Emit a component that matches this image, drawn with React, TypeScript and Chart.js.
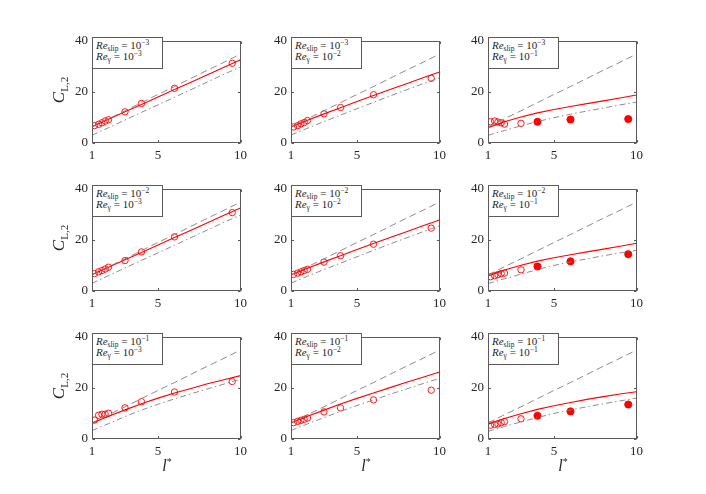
import React, { useEffect, useRef } from 'react';
import { Chart, registerables } from 'chart.js';

Chart.register(...registerables);

// abscissa samples for the model curves and for the simulation markers
const lineX = [1, 2, 3, 4, 5, 6, 7, 8, 9, 10];
const markerX = [1.15, 1.4, 1.6, 1.8, 2, 3, 4, 6, 9.5];
const xTicks = [1, 5, 10];
const yTicks = [0, 20, 40];

// Re_slip per row, Re_gamma per column (exponents of 10)
const slipExponents = ['−3', '−2', '−1'];
const gammaExponents = ['−3', '−2', '−1'];

// grey dashed curve (same in every panel)
const dashedY = [6.3, 9.5, 12.6, 15.8, 19.0, 22.1, 25.3, 28.5, 31.6, 34.8];

// red solid curves
const solidR1C1 = [6.4, 9.3, 12.2, 15.1, 18.0, 20.9, 23.8, 26.7, 29.6, 32.6];
const solidR1C2 = [6.3, 8.9, 11.4, 13.8, 16.2, 18.6, 20.9, 23.2, 25.5, 27.8];
const solidR1C3 = [6.0, 8.3, 10.2, 11.8, 13.1, 14.3, 15.4, 16.5, 17.6, 18.8];
const solidR2C1 = [6.4, 9.3, 12.2, 15.1, 18.0, 20.9, 23.8, 26.7, 29.6, 32.5];
const solidR2C2 = [6.3, 8.9, 11.4, 13.8, 16.2, 18.6, 20.9, 23.2, 25.5, 27.8];
const solidR2C3 = [5.9, 8.2, 10.1, 11.7, 13.0, 14.2, 15.3, 16.4, 17.5, 18.7];
const solidR3C1 = [6.2, 8.9, 11.4, 13.8, 16.0, 18.0, 19.8, 21.6, 23.2, 24.8];
const solidR3C2 = [6.3, 8.9, 11.3, 13.7, 15.9, 18.0, 20.1, 22.2, 24.2, 26.2];
const solidR3C3 = [5.8, 8.0, 9.9, 11.6, 13.0, 14.3, 15.5, 16.6, 17.6, 18.5];

// grey dash-dot curves
const dashDotR1C1 = [3.0, 6.0, 9.0, 12.0, 14.9, 17.9, 20.9, 23.9, 26.9, 29.8];
const dashDotR1C2 = [3.1, 5.8, 8.4, 10.9, 13.4, 15.9, 18.4, 20.8, 23.2, 25.5];
const dashDotR1C3 = [3.0, 4.9, 6.7, 8.4, 9.9, 11.3, 12.5, 13.7, 14.9, 16.0];
const dashDotR2C1 = [3.0, 6.0, 9.0, 12.0, 14.9, 17.9, 20.9, 23.9, 26.9, 29.7];
const dashDotR2C2 = [3.1, 5.8, 8.4, 10.9, 13.4, 15.9, 18.4, 20.8, 23.2, 25.5];
const dashDotR2C3 = [2.9, 4.8, 6.6, 8.4, 10.0, 11.4, 12.6, 13.8, 14.9, 15.9];
const dashDotR3C1 = [3.3, 6.0, 8.8, 11.3, 13.6, 15.7, 17.7, 19.6, 21.5, 23.4];
const dashDotR3C2 = [3.3, 5.9, 8.4, 10.8, 13.1, 15.3, 17.5, 19.6, 21.7, 23.7];
const dashDotR3C3 = [3.0, 4.9, 6.7, 8.4, 10.0, 11.4, 12.6, 13.8, 14.9, 16.0];

// red markers
const markersR1C1 = [6.8, 7.3, 7.9, 8.6, 9.1, 12.2, 15.5, 21.4, 31.2];
const markersR1C2 = [6.3, 6.8, 7.5, 8.0, 8.8, 11.4, 13.9, 18.9, 25.3];
const markersR1C3 = [8.3, 8.6, 8.2, 7.9, 7.4, 7.7, 8.3, 9.2, 9.4];
const markersR2C1 = [6.8, 7.5, 8.0, 8.6, 9.3, 11.9, 15.3, 21.2, 30.7];
const markersR2C2 = [6.5, 7.0, 7.5, 8.0, 8.5, 11.3, 13.8, 18.3, 24.6];
const markersR2C3 = [5.6, 6.0, 6.4, 6.8, 7.0, 8.3, 9.6, 11.6, 14.4];
const markersR3C1 = [7.4, 9.3, 9.7, 9.7, 10.1, 12.2, 14.6, 18.4, 22.5];
const markersR3C2 = [6.4, 6.9, 7.3, 7.7, 8.2, 10.6, 12.2, 15.3, 19.1];
const markersR3C3 = [5.4, 5.7, 5.9, 6.4, 6.8, 7.9, 9.1, 10.8, 13.5];

// which markers are drawn filled, per column
const openMask = [false, false, false, false, false, false, false, false, false];
const col3FilledMask = [false, false, false, false, false, false, true, true, true];
const filledByColumn = [openMask, openMask, col3FilledMask];

const solidGrid = [
  [solidR1C1, solidR1C2, solidR1C3],
  [solidR2C1, solidR2C2, solidR2C3],
  [solidR3C1, solidR3C2, solidR3C3],
];
const dashDotGrid = [
  [dashDotR1C1, dashDotR1C2, dashDotR1C3],
  [dashDotR2C1, dashDotR2C2, dashDotR2C3],
  [dashDotR3C1, dashDotR3C2, dashDotR3C3],
];
const markerGrid = [
  [markersR1C1, markersR1C2, markersR1C3],
  [markersR2C1, markersR2C2, markersR2C3],
  [markersR3C1, markersR3C2, markersR3C3],
];

// layout (page pixels)
const plotLefts = [92, 291, 488];
const plotTops = [37, 185, 333];
const plotW = 150;
const plotH = 106;
const padL = 34;
const padT = 8;
const padR = 10;
const padB = 24;

const RED = '#ff0000';
const GREY = 'rgb(128,128,128)';
const AXIS = '#5a5a5a';
const TEXT = '#262626';
const SERIF = '"Liberation Serif", "DejaVu Serif", serif';

// MATLAB-like box with inward ticks
const axesBox = {
  id: 'axesBox',
  afterDraw(chart: any) {
    const { ctx, chartArea } = chart;
    const { left, top, right, bottom } = chartArea;
    const xs = chart.scales.x;
    const ys = chart.scales.y;
    const L = Math.round(left) + 0.5;
    const T = Math.round(top) + 0.5;
    const R = Math.round(right) - 0.5;
    const B = Math.round(bottom) - 0.5;
    ctx.save();
    ctx.strokeStyle = AXIS;
    ctx.lineWidth = 1;
    ctx.strokeRect(L, T, R - L, B - T);
    const tl = 2.5;
    ctx.beginPath();
    xTicks.forEach((v) => {
      const px = Math.round(xs.getPixelForValue(v)) + 0.5;
      ctx.moveTo(px, B);
      ctx.lineTo(px, B - tl);
      ctx.moveTo(px, T);
      ctx.lineTo(px, T + tl);
    });
    yTicks.forEach((v) => {
      const py = Math.round(ys.getPixelForValue(v)) + 0.5;
      ctx.moveTo(L, py);
      ctx.lineTo(L + tl, py);
      ctx.moveTo(R, py);
      ctx.lineTo(R - tl, py);
    });
    ctx.stroke();
    ctx.restore();
  },
};

function Panel({ row, col }: { row: number; col: number }) {
  const canvasRef = useRef<HTMLCanvasElement | null>(null);

  useEffect(() => {
    if (!canvasRef.current) return;
    const solid = solidGrid[row][col];
    const dashDot = dashDotGrid[row][col];
    const markers = markerGrid[row][col];
    const filled = filledByColumn[col];

    const chart = new Chart(canvasRef.current, {
      type: 'scatter',
      data: {
        datasets: [
          {
            data: lineX.map((x, i) => ({ x, y: dashedY[i] })),
            showLine: true,
            borderColor: GREY,
            borderWidth: 0.9,
            borderDash: [7, 4],
            pointRadius: 0,
          },
          {
            data: lineX.map((x, i) => ({ x, y: dashDot[i] })),
            showLine: true,
            borderColor: GREY,
            borderWidth: 0.9,
            borderDash: [6, 3, 1.5, 3],
            pointRadius: 0,
          },
          {
            data: lineX.map((x, i) => ({ x, y: solid[i] })),
            showLine: true,
            borderColor: RED,
            borderWidth: 1.1,
            pointRadius: 0,
          },
          {
            data: markerX.map((x, i) => ({ x, y: markers[i] })),
            showLine: false,
            pointRadius: filled.map((f) => (f ? 3.6 : 3.2)),
            pointBorderWidth: 0.9,
            pointBorderColor: RED,
            pointBackgroundColor: filled.map((f) => (f ? RED : 'rgba(0,0,0,0)')),
          },
        ],
      } as any,
      options: {
        animation: false,
        responsive: false,
        maintainAspectRatio: false,
        layout: { padding: { top: padT, right: padR, left: 0, bottom: 0 } },
        plugins: { legend: { display: false }, tooltip: { enabled: false } },
        scales: {
          x: {
            type: 'linear',
            min: 1,
            max: 10,
            afterBuildTicks: (s: any) => {
              s.ticks = xTicks.map((v) => ({ value: v }));
            },
            afterFit: (s: any) => {
              s.height = padB;
            },
            grid: { display: false, drawTicks: false },
            border: { display: false },
            ticks: {
              padding: 5,
              maxRotation: 0,
              autoSkip: false,
              color: TEXT,
              font: { family: SERIF, size: 13 },
              callback: (v: any) => String(v),
            },
          },
          y: {
            type: 'linear',
            min: 0,
            max: 40,
            afterBuildTicks: (s: any) => {
              s.ticks = yTicks.map((v) => ({ value: v }));
            },
            afterFit: (s: any) => {
              s.width = padL;
            },
            grid: { display: false, drawTicks: false },
            border: { display: false },
            ticks: {
              padding: 4,
              autoSkip: false,
              color: TEXT,
              font: { family: SERIF, size: 13 },
              callback: (v: any) => String(v),
            },
          },
        },
      } as any,
      plugins: [axesBox],
    });

    return () => {
      chart.destroy();
    };
  }, [row, col]);

  const left = plotLefts[col];
  const top = plotTops[row];
  const w = plotW + padL + padR;
  const h = plotH + padT + padB;

  const sub = { fontSize: 7.5, position: 'relative' as const, top: 2 };
  const sup = { fontSize: 7.5, position: 'relative' as const, top: -4 };

  return (
    <>
      <canvas
        ref={canvasRef}
        width={w}
        height={h}
        style={{ position: 'absolute', left: left - padL, top: top - padT, width: w, height: h }}
      />
      <div
        style={{
          position: 'absolute',
          left,
          top,
          width: 71,
          height: 32,
          boxSizing: 'border-box',
          border: `1px solid ${AXIS}`,
          background: '#fff',
          padding: '2px 0 0 3px',
          fontFamily: SERIF,
          fontSize: 11,
          color: TEXT,
          whiteSpace: 'nowrap',
        }}
      >
        <div style={{ height: 11, lineHeight: '11px' }}>
          <i>Re</i>
          <span style={sub}>slip</span> = 10<span style={sup}>{slipExponents[row]}</span>
        </div>
        <div style={{ height: 11, lineHeight: '11px' }}>
          <i>Re</i>
          <span style={sub}>γ</span> = 10<span style={sup}>{gammaExponents[col]}</span>
        </div>
      </div>
    </>
  );
}

export default function App() {
  const rows = [0, 1, 2];
  const cols = [0, 1, 2];
  return (
    <div
      style={{
        position: 'absolute',
        left: 0,
        top: 0,
        width: 706,
        height: 494,
        background: '#fff',
        overflow: 'hidden',
        fontFamily: SERIF,
        color: TEXT,
      }}
    >
      {rows.map((r) => cols.map((c) => <Panel key={`${r}-${c}`} row={r} col={c} />))}
      {rows.map((r) => (
        <div
          key={`yl-${r}`}
          style={{
            position: 'absolute',
            left: 59,
            top: plotTops[r] + plotH / 2,
            transform: 'translate(-50%, -50%) rotate(-90deg)',
            whiteSpace: 'nowrap',
            fontSize: 17,
          }}
        >
          <i>C</i>
          <span style={{ fontSize: 11, position: 'relative', top: 4 }}>L,2</span>
        </div>
      ))}
      {cols.map((c) => (
        <div
          key={`xl-${c}`}
          style={{
            position: 'absolute',
            left: plotLefts[c] + plotW / 2,
            top: 466,
            transform: 'translate(-50%, -50%)',
            whiteSpace: 'nowrap',
            fontSize: 16,
          }}
        >
          <i>l</i>
          <span style={{ fontSize: 10, position: 'relative', top: -6 }}>*</span>
        </div>
      ))}
    </div>
  );
}
